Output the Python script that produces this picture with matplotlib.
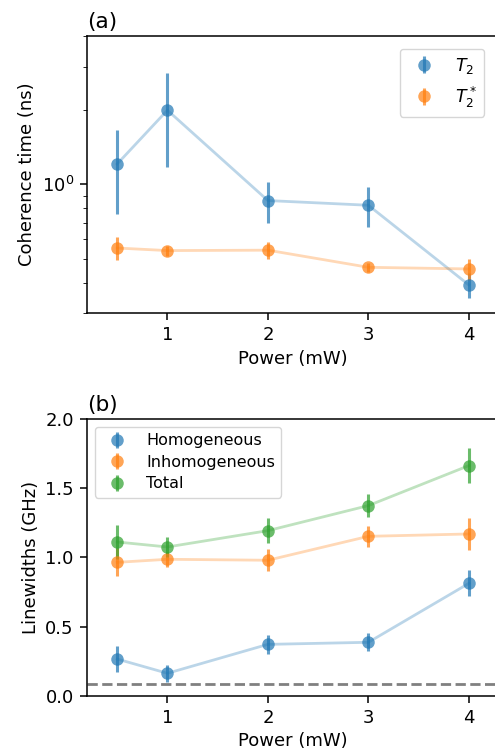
import matplotlib
matplotlib.use("Agg")
import matplotlib.pyplot as plt
import numpy as np

power = [0.5, 1, 2, 3, 4]
t2 = [1.21, 2.0, 0.86, 0.823, 0.391]
t2_err = [0.45, 0.82, 0.16, 0.15, 0.045]
t2s = [0.552, 0.539, 0.541, 0.461, 0.454]
t2s_err = [0.06, 0.025, 0.043, 0.02, 0.044]

homog = [0.265, 0.162, 0.371, 0.386, 0.812]
homog_err = [0.097, 0.06, 0.07, 0.066, 0.094]
inhomog = [0.964, 0.986, 0.979, 1.152, 1.169]
inhomog_err = [0.10, 0.055, 0.078, 0.075, 0.115]
total = [1.111, 1.075, 1.193, 1.374, 1.663]
total_err = [0.12, 0.075, 0.088, 0.083, 0.127]
dash_level = 0.085
lin_ticks = [0.0, 0.5, 1.0, 1.5, 2.0]

plt.rcParams['font.size'] = 13
plt.rcParams['legend.fontsize'] = 11.5
plt.rcParams['xtick.major.size'] = 5
plt.rcParams['ytick.major.size'] = 5
plt.rcParams['ytick.minor.size'] = 3
plt.rcParams['xtick.major.pad'] = 4.5
plt.rcParams['ytick.major.pad'] = 4.5
plt.rcParams['axes.linewidth'] = 1.1
plt.rcParams['xtick.major.width'] = 1.1
plt.rcParams['ytick.major.width'] = 1.1

fig = plt.figure(figsize=(4.95, 7.49), dpi=100)
W, H = 495, 749
ax1 = fig.add_axes([87/W, 1-313.3/H, 412/W, (313.3-36)/H])
ax2 = fig.add_axes([87/W, 1-695.7/H, 412/W, (695.7-419)/H])

c1, c2, c3 = 'tab:blue', 'tab:orange', 'tab:green'

def series(ax, y, e, c, label):
    ax.plot(power, y, '-', color=c, alpha=0.3, lw=2)
    ax.errorbar(power, y, yerr=e, fmt='o', color=c, alpha=0.7, ms=9, mew=0,
                elinewidth=2.2, label=label)

series(ax1, t2, t2_err, c1, r'$T_2$')
series(ax1, t2s, t2s_err, c2, r'$T_2^*$')
ax1.set_yscale('log')
ax1.set_ylim(0.3, 4.0)
ax1.set_xlim(0.2, 4.3)
ax1.set_xticks([1, 2, 3, 4])
ax1.set_xlabel('Power (mW)')
ax1.set_ylabel('Coherence time (ns)')
ax1.set_title('(a)', loc='left')
ax1.legend(loc='upper right', bbox_to_anchor=(0.985, 0.985), fontsize=12.5)

series(ax2, homog, homog_err, c1, 'Homogeneous')
series(ax2, inhomog, inhomog_err, c2, 'Inhomogeneous')
series(ax2, total, total_err, c3, 'Total')
ax2.axhline(dash_level, color='gray', ls='--', lw=2)
ax2.set_ylim(0, 2.0)
ax2.set_yticks(lin_ticks)
ax2.set_xlim(0.2, 4.3)
ax2.set_xticks([1, 2, 3, 4])
ax2.set_xlabel('Power (mW)')
ax2.set_ylabel('Linewidths (GHz)')
ax2.set_title('(b)', loc='left')
ax2.legend(loc='upper left', labelspacing=0.4)

fig.savefig('out.png', dpi=100)
